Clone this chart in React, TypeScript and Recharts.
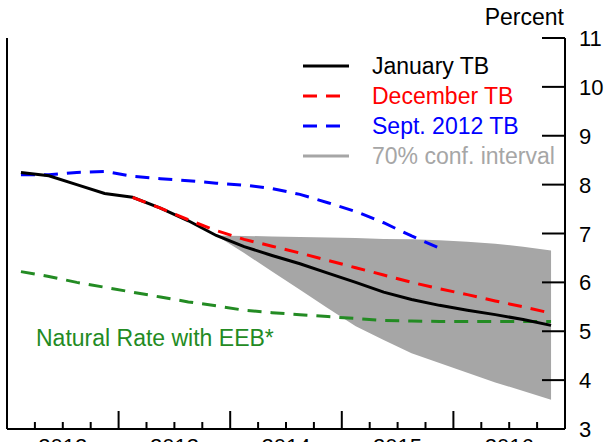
import React from 'react';
import { ComposedChart, Line, Area, XAxis, YAxis } from 'recharts';

// quarterly points, 2012Q1 .. 2016Q4
const YEARS = ['2012', '2013', '2014', '2015', '2016'];
const PCT_TICKS = [3, 4, 5, 6, 7, 8, 9, 10, 11];
const QTR_TICKS = Array.from({ length: 21 }, (_, i) => i);

const januaryTB = [8.25, 8.18, 8.0, 7.82, 7.74, 7.52, 7.26, 6.96, 6.73, 6.55, 6.38, 6.19, 6.0, 5.8, 5.65, 5.53, 5.43, 5.34, 5.24, 5.12];
const decemberTB = [null, null, null, null, 7.74, 7.52, 7.28, 7.06, 6.88, 6.74, 6.6, 6.45, 6.3, 6.15, 6.0, 5.87, 5.75, 5.62, 5.5, 5.37];
const septTB = [8.2, 8.2, 8.25, 8.27, 8.17, 8.12, 8.08, 8.03, 7.99, 7.92, 7.8, 7.63, 7.45, 7.22, 6.95, 6.7, null, null, null, null];
const naturalRate = [6.22, 6.12, 6.0, 5.9, 5.8, 5.7, 5.6, 5.52, 5.43, 5.38, 5.34, 5.3, 5.26, 5.22, 5.21, 5.2, 5.2, 5.2, 5.2, 5.2];
const bandLow = [null, null, null, null, null, null, null, 6.96, 6.6, 6.22, 5.85, 5.47, 5.1, 4.82, 4.55, 4.35, 4.15, 3.95, 3.78, 3.6];
const bandHigh = [null, null, null, null, null, null, null, 6.96, 6.95, 6.94, 6.93, 6.92, 6.91, 6.89, 6.88, 6.86, 6.83, 6.79, 6.73, 6.65];

const FONT = '"Liberation Sans", Arial, sans-serif';
const GREEN = '#238B23';
const GRAY = '#A6A6A6';
const DASH = '14 9';

const data = januaryTB.map((v, i) => ({
  q: i + 0.5,
  jan: v,
  dec: decemberTB[i],
  sep: septTB[i],
  nat: naturalRate[i],
  band: bandLow[i] == null ? null : [bandLow[i], bandHigh[i]],
}));

const QuarterTick = (props: any) => {
  const { x, y, payload } = props;
  const i = payload.value;
  const major = i % 4 === 0;
  return (
    <g>
      <line x1={x} x2={x} y1={y} y2={y - (major ? 18 : 7)} stroke="#000" strokeWidth={2} />
      {i % 4 === 2 && (
        <text x={x} y={y + 25} textAnchor="middle" fontSize={22} fontFamily={FONT} fill="#000">
          {YEARS[(i - 2) / 4]}
        </text>
      )}
    </g>
  );
};

const RightTick = (props: any) => {
  const { x, y, payload } = props;
  return (
    <g>
      {payload.value > 3 && <line x1={x - 23} x2={x} y1={y} y2={y} stroke="#000" strokeWidth={2} />}
      <text x={x + 14} y={y + 8} fontSize={22} fontFamily={FONT} fill="#000">
        {payload.value}
      </text>
    </g>
  );
};

const LeftTick = (props: any) => {
  const { x, y, payload } = props;
  if (payload.value <= 3) return <g />;
  return <line x1={x} x2={x + 24} y1={y} y2={y} stroke="#000" strokeWidth={2} />;
};

const legendRows = [
  { label: 'January TB', color: '#000', dash: undefined, textColor: '#000' },
  { label: 'December TB', color: '#FF0000', dash: DASH, textColor: '#FF0000' },
  { label: 'Sept. 2012 TB', color: '#0000FF', dash: DASH, textColor: '#0000FF' },
  { label: '70% conf. interval', color: GRAY, dash: undefined, textColor: GRAY },
];

export default function App() {
  return (
    <div style={{ position: 'fixed', left: 0, top: 0, width: 605, height: 442, overflow: 'hidden', background: '#fff', fontFamily: FONT }}>
      <ComposedChart width={605} height={442} data={data} margin={{ top: 38, right: 0, bottom: 0, left: 0 }}>
        <XAxis
          dataKey="q"
          type="number"
          domain={[0, 20]}
          ticks={QTR_TICKS}
          interval={0}
          height={13}
          tickSize={0}
          tickMargin={0}
          tickLine={false}
          axisLine={{ stroke: '#000', strokeWidth: 2 }}
          tick={<QuarterTick />}
        />
        <YAxis
          yAxisId="l"
          orientation="left"
          width={7}
          domain={[3, 11]}
          ticks={PCT_TICKS}
          interval={0}
          tickSize={0}
          tickMargin={0}
          tickLine={false}
          axisLine={{ stroke: '#000', strokeWidth: 2 }}
          tick={<LeftTick />}
        />
        <YAxis
          yAxisId="r"
          orientation="right"
          width={40}
          domain={[3, 11]}
          ticks={PCT_TICKS}
          interval={0}
          tickSize={0}
          tickMargin={0}
          tickLine={false}
          axisLine={{ stroke: '#000', strokeWidth: 2 }}
          tick={<RightTick />}
        />
        <Area yAxisId="r" dataKey="band" type="linear" fill={GRAY} fillOpacity={1} stroke="none" isAnimationActive={false} />
        <Line yAxisId="r" dataKey="nat" type="linear" stroke={GREEN} strokeWidth={3} strokeDasharray={DASH} dot={false} isAnimationActive={false} />
        <Line yAxisId="r" dataKey="sep" type="linear" stroke="#0000FF" strokeWidth={3} strokeDasharray={DASH} dot={false} isAnimationActive={false} />
        <Line yAxisId="r" dataKey="jan" type="linear" stroke="#000" strokeWidth={3} dot={false} isAnimationActive={false} />
        <Line yAxisId="r" dataKey="dec" type="linear" stroke="#FF0000" strokeWidth={3} strokeDasharray={DASH} dot={false} isAnimationActive={false} />
      </ComposedChart>

      <div style={{ position: 'absolute', right: 41, top: 4, fontSize: 23 }}>Percent</div>

      <div style={{ position: 'absolute', left: 303, top: 51 }}>
        {legendRows.map(r => (
          <div key={r.label} style={{ display: 'flex', alignItems: 'center', height: 30 }}>
            <svg width={46} height={10} style={{ marginRight: 23 }}>
              <line x1={0} x2={46} y1={5} y2={5} stroke={r.color} strokeWidth={3} strokeDasharray={r.dash} />
            </svg>
            <span style={{ fontSize: 23, color: r.textColor, whiteSpace: 'nowrap' }}>{r.label}</span>
          </div>
        ))}
      </div>

      <div style={{ position: 'absolute', left: 36, top: 325, fontSize: 23, color: GREEN, whiteSpace: 'nowrap' }}>
        Natural Rate with EEB*
      </div>
    </div>
  );
}
